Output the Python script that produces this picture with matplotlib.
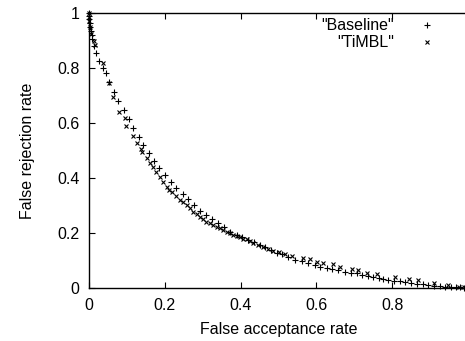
import matplotlib
matplotlib.use("Agg")
import matplotlib.pyplot as plt

# Baseline series (+)
base_x = [0.000, 0.000, 0.001, 0.002, 0.003, 0.005, 0.007, 0.009, 0.013, 0.018,
          0.026, 0.036, 0.044, 0.053, 0.066, 0.077, 0.092, 0.106, 0.117, 0.131,
          0.143, 0.159, 0.172, 0.185, 0.200, 0.216, 0.230, 0.247, 0.262, 0.277,
          0.293, 0.309, 0.325, 0.341, 0.357, 0.372, 0.390, 0.405, 0.420, 0.435,
          0.450, 0.465, 0.480, 0.495, 0.510, 0.525, 0.544, 0.561, 0.579, 0.595,
          0.610, 0.627, 0.642, 0.658, 0.675, 0.690, 0.706, 0.720, 0.735, 0.750,
          0.765, 0.777, 0.790, 0.805, 0.820, 0.835, 0.850, 0.865, 0.880, 0.895,
          0.910, 0.925, 0.940, 0.955, 0.968, 0.980, 0.990]
base_y = [1.000, 0.990, 0.980, 0.965, 0.950, 0.935, 0.920, 0.905, 0.880, 0.855,
          0.825, 0.800, 0.783, 0.750, 0.714, 0.681, 0.647, 0.613, 0.581, 0.548,
          0.520, 0.492, 0.463, 0.435, 0.411, 0.387, 0.363, 0.342, 0.323, 0.302,
          0.281, 0.265, 0.250, 0.235, 0.221, 0.205, 0.193, 0.185, 0.176, 0.167,
          0.157, 0.148, 0.140, 0.128, 0.122, 0.114, 0.102, 0.098, 0.090, 0.084,
          0.078, 0.072, 0.068, 0.065, 0.059, 0.056, 0.053, 0.047, 0.043, 0.040,
          0.036, 0.032, 0.030, 0.027, 0.024, 0.021, 0.018, 0.015, 0.013, 0.011,
          0.009, 0.007, 0.005, 0.004, 0.003, 0.002, 0.001]

# TiMBL series (x)
timbl_x = [0.000, 0.000, 0.001, 0.003, 0.006, 0.014, 0.017, 0.036, 0.053, 0.064,
           0.080, 0.095, 0.097, 0.115, 0.127, 0.136, 0.140, 0.154, 0.161, 0.168,
           0.177, 0.187, 0.195, 0.205, 0.212, 0.218, 0.229, 0.240, 0.249, 0.258,
           0.266, 0.275, 0.284, 0.293, 0.301, 0.310, 0.319, 0.328, 0.337, 0.346,
           0.354, 0.363, 0.372, 0.381, 0.390, 0.398, 0.407, 0.416, 0.425, 0.434,
           0.447, 0.460, 0.473, 0.486, 0.500, 0.517, 0.535, 0.565, 0.583, 0.601,
           0.617, 0.643, 0.662, 0.693, 0.711, 0.734, 0.759, 0.807, 0.845, 0.869,
           0.909, 0.948, 0.975, 0.990]
timbl_y = [1.000, 0.985, 0.970, 0.950, 0.925, 0.898, 0.885, 0.817, 0.747, 0.696,
           0.641, 0.617, 0.589, 0.553, 0.528, 0.504, 0.493, 0.472, 0.456, 0.439,
           0.423, 0.403, 0.385, 0.368, 0.358, 0.350, 0.335, 0.320, 0.311, 0.302,
           0.290, 0.277, 0.268, 0.259, 0.250, 0.241, 0.235, 0.229, 0.223, 0.217,
           0.211, 0.205, 0.199, 0.193, 0.188, 0.184, 0.180, 0.177, 0.171, 0.165,
           0.158, 0.150, 0.143, 0.136, 0.130, 0.124, 0.116, 0.110, 0.104, 0.096,
           0.092, 0.087, 0.077, 0.070, 0.065, 0.056, 0.050, 0.041, 0.033, 0.029,
           0.019, 0.011, 0.005, 0.002]

x_ticks = [0, 0.2, 0.4, 0.6, 0.8]
x_labels = ["0", "0.2", "0.4", "0.6", "0.8"]
y_ticks = [0, 0.2, 0.4, 0.6, 0.8, 1]
y_labels = ["0", "0.2", "0.4", "0.6", "0.8", "1"]

plt.rcParams['font.family'] = ['Liberation Sans', 'DejaVu Sans']
plt.rcParams['font.size'] = 11.5

fig = plt.figure(figsize=(4.65, 3.41), dpi=100)
# axes run past the right edge of the figure, like the cropped gnuplot output
ax = fig.add_axes([89 / 465, 53 / 341, 379 / 465, 275 / 341])

ax.plot(base_x, base_y, linestyle='none', marker='+', markersize=4,
        markeredgewidth=0.8, color='black', clip_on=False)
ax.plot(timbl_x, timbl_y, linestyle='none', marker='x', markersize=3.3,
        markeredgewidth=0.8, color='black', clip_on=False)

ax.set_xlim(0, 1)
ax.set_ylim(0, 1)
ax.set_xticks(x_ticks)
ax.set_xticklabels(x_labels)
ax.set_yticks(y_ticks)
ax.set_yticklabels(y_labels)
ax.tick_params(direction='in', length=4, width=0.8, top=True, pad=7,
               labelsize=11.5)
for s in ax.spines.values():
    s.set_linewidth(1.0)

ax.set_xlabel('False acceptance rate', fontsize=11.5, labelpad=7)
ax.set_ylabel('False rejection rate', fontsize=11.5, labelpad=16)

# gnuplot-style key in the top right corner
ax.text(0.805, 0.953, '"Baseline"', transform=ax.transAxes, ha='right',
        va='center', fontsize=11.5)
ax.text(0.805, 0.893, '"TiMBL"', transform=ax.transAxes, ha='right',
        va='center', fontsize=11.5)
ax.plot([0.891], [0.956], transform=ax.transAxes, marker='+', markersize=4,
        markeredgewidth=0.8, color='black', clip_on=False)
ax.plot([0.891], [0.896], transform=ax.transAxes, marker='x', markersize=3.3,
        markeredgewidth=0.8, color='black', clip_on=False)

fig.savefig('out.png', dpi=100)
